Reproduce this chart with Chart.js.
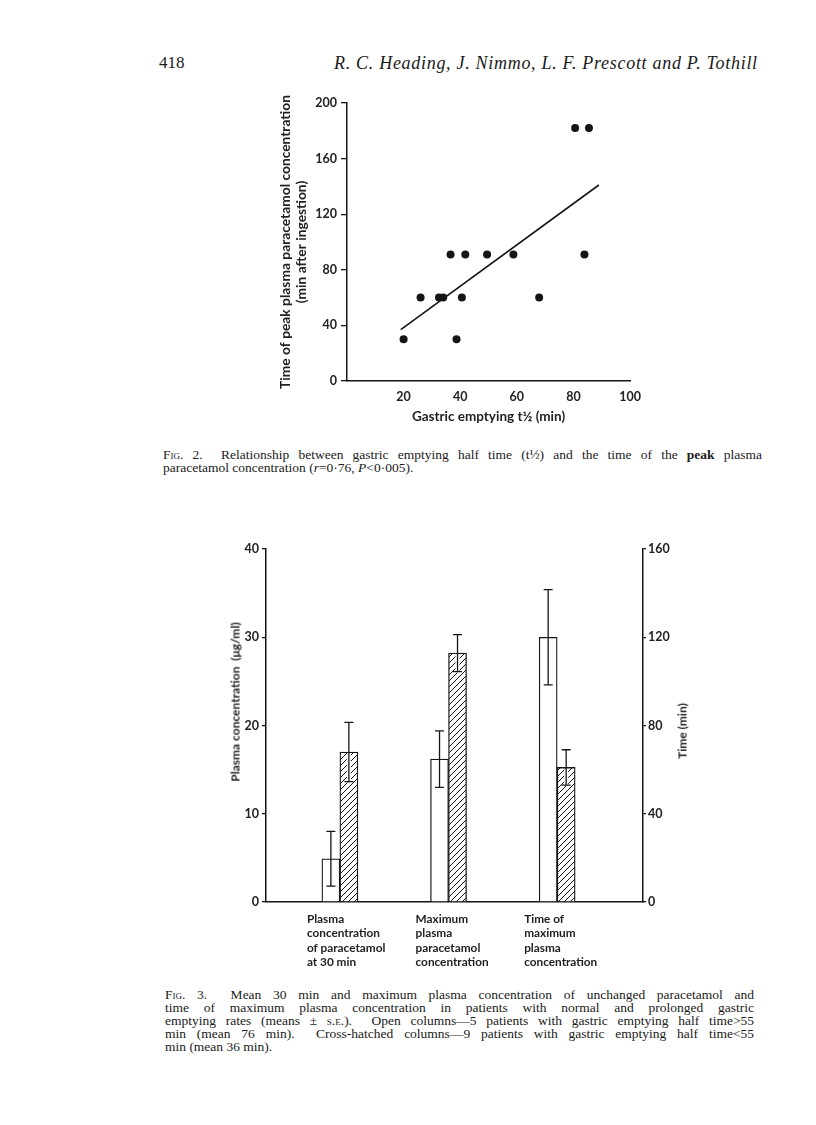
<!DOCTYPE html>
<html>
<head>
<meta charset="utf-8">
<script src="https://cdn.jsdelivr.net/npm/chart.js@4/dist/chart.umd.min.js"></script>
<style>
html,body{margin:0;padding:0;background:#fff;}
body{width:816px;height:1125px;position:relative;overflow:hidden;font-family:"Liberation Serif","DejaVu Serif",serif;color:#1a1a1a;}
.abs{position:absolute;white-space:nowrap;}
canvas{position:absolute;left:0;}
#c1{top:0;}
#c2{top:500px;}
.cap{position:absolute;font-size:13.5px;line-height:13px;}
.cap div{text-align:justify;text-align-last:justify;}
.cap div.last{text-align-last:left;}
.sc{font-variant:small-caps;}
.rot{position:absolute;white-space:nowrap;transform:translate(-50%,-50%) rotate(-90deg);font-family:Lato,"Open Sans",sans-serif;font-weight:bold;font-size:12px;color:#222;}
</style>
</head>
<body>
<div class="abs" style="left:159px;top:53px;font-size:17px;">418</div>
<div class="abs" style="left:334px;top:53px;font-size:18px;letter-spacing:0.7px;font-style:italic;">R. C. Heading, J. Nimmo, L. F. Prescott and P. Tothill</div>

<canvas id="c1" width="816" height="440"></canvas>
<canvas id="c2" width="816" height="480"></canvas>

<div class="cap" style="left:163px;top:448px;width:599px;">
<div><span class="sc">Fig.</span> 2.&nbsp; Relationship between gastric emptying half time (t½) and the time of the <b>peak</b> plasma</div>
<div class="last">paracetamol concentration (<i>r</i>=0·76, <i>P</i>&lt;0·005).</div>
</div>

<div class="rot" style="left:235px;top:702px;">Plasma concentration&nbsp; (μg/ml)</div>
<div class="rot" style="left:682px;top:731px;">Time (min)</div>

<div class="cap" style="left:165px;top:988px;width:589px;">
<div><span class="sc">Fig.</span> 3.&nbsp; Mean 30 min and maximum plasma concentration of unchanged paracetamol and</div>
<div>time of maximum plasma concentration in patients with normal and prolonged gastric</div>
<div>emptying rates (means ± <span class="sc">s.e.</span>).&nbsp; Open columns—5 patients with gastric emptying half time&gt;55</div>
<div>min (mean 76 min).&nbsp; Cross-hatched columns—9 patients with gastric emptying half time&lt;55</div>
<div class="last">min (mean 36 min).</div>
</div>

<script>
// ---------------- Fig. 2 data ----------------
const emptyingHalfTime = [20, 26, 32.5, 34, 38.7, 40.6, 36.6, 41.8, 49.5, 58.8, 67.9, 83.9, 80.6, 85.5];
const peakTime         = [30, 60, 60,   60, 30,   60,   91,   91,   91,   91,   60,   91,   182,  182];
const fitLineX = [19, 89];
const fitLineY = [37, 141];
const fig2XTicks = [0, 20, 40, 60, 80, 100];
const fig2YTicks = [0, 40, 80, 120, 160, 200];

// ---------------- Fig. 3 data ----------------
const categories = [
  ['Plasma', 'concentration', 'of paracetamol', 'at 30 min'],
  ['Maximum', 'plasma', 'paracetamol', 'concentration'],
  ['Time of', 'maximum', 'plasma', 'concentration']
];
const concOpen     = [4.9, 16.2, null];   // µg/ml, open columns
const concOpenSE   = [3.1, 3.2, null];
const concHatch    = [17.0, 28.2, null];  // µg/ml, cross-hatched columns
const concHatchSE  = [3.35, 2.1, null];
const timeOpen     = [null, null, 120];   // min, open column
const timeOpenSE   = [null, null, 21.6];
const timeHatch    = [null, null, 61];    // min, cross-hatched column
const timeHatchSE  = [null, null, 8];
const concTicks = [0, 10, 20, 30, 40];
const timeTicks = [0, 40, 80, 120, 160];

const FONT = 'Lato, "Open Sans", sans-serif';
const INK = '#151515';
const TXT = '#222';

// ---------------- Fig. 2 chart ----------------
new Chart(document.getElementById('c1'), {
  type: 'scatter',
  data: {
    datasets: [
      {
        type: 'scatter',
        data: emptyingHalfTime.map((x, i) => ({ x: x, y: peakTime[i] })),
        pointRadius: 4, pointHoverRadius: 4,
        backgroundColor: INK, borderColor: INK, borderWidth: 0
      },
      {
        type: 'line',
        data: fitLineX.map((x, i) => ({ x: x, y: fitLineY[i] })),
        borderColor: INK, borderWidth: 1.6, pointRadius: 0, fill: false, tension: 0
      }
    ]
  },
  options: {
    responsive: false, animation: false, devicePixelRatio: 1,
    layout: { padding: { left: 277, right: 186, top: 103, bottom: 15 } },
    plugins: { legend: { display: false }, tooltip: { enabled: false } },
    scales: {
      x: {
        type: 'linear', min: 0, max: 100,
        afterBuildTicks: s => { s.ticks = fig2XTicks.map(v => ({ value: v })); },
        afterFit: s => { s.height = 44; },
        grid: { display: true, drawOnChartArea: false, drawTicks: false },
        border: { display: true, color: INK, width: 1.5 },
        ticks: { padding: 8, autoSkip: false, maxRotation: 0, color: TXT,
                 font: { family: FONT, size: 12.5, weight: 'bold' },
                 callback: v => (v === 0 ? '' : String(v)) },
        title: { display: true, text: 'Gastric emptying t½ (min)', color: TXT, padding: 0,
                 font: { family: FONT, size: 13.5, weight: 'bold', lineHeight: 1.2 } }
      },
      y: {
        type: 'linear', min: 0, max: 200,
        afterBuildTicks: s => { s.ticks = fig2YTicks.map(v => ({ value: v })); },
        afterFit: s => { s.width = 70; },
        grid: { display: true, drawOnChartArea: false, drawTicks: true, tickLength: 6, color: INK, lineWidth: 1.3 },
        border: { display: true, color: INK, width: 1.5 },
        ticks: { padding: 4, color: TXT, font: { family: FONT, size: 12.5, weight: 'bold' } },
        title: { display: true, color: TXT, padding: 0,
                 text: ['Time of peak plasma paracetamol concentration', '(min after ingestion)'],
                 font: { family: FONT, size: 13.8, weight: 'bold', lineHeight: 1.18 } }
      }
    }
  }
});

// ---------------- Fig. 3 chart ----------------
const c2 = document.getElementById('c2');
const hatchTile = (() => {
  const c = document.createElement('canvas');
  c.width = 6; c.height = 6;
  const g = c.getContext('2d');
  g.fillStyle = '#fff'; g.fillRect(0, 0, 6, 6);
  g.strokeStyle = INK; g.lineWidth = 1.0;
  g.beginPath();
  g.moveTo(0, 6); g.lineTo(6, 0);
  g.moveTo(-1, 1); g.lineTo(1, -1);
  g.moveTo(5, 7); g.lineTo(7, 5);
  g.stroke();
  return c;
})();
const hatchPattern = c2.getContext('2d').createPattern(hatchTile, 'repeat');

const catPos = categories.map((_, i) => i + 1);
const asPoints = arr => arr.map((v, i) => ({ x: catPos[i], y: v }));

const barCommon = { borderColor: INK, borderWidth: 1.3, barThickness: 18, skipNull: true, borderSkipped: 'start' };

const errorBars = {
  id: 'errorBars',
  afterDatasetsDraw(chart) {
    const ctx = chart.ctx;
    chart.data.datasets.forEach((ds, di) => {
      const meta = chart.getDatasetMeta(di);
      const sc = chart.scales[ds.yAxisID];
      meta.data.forEach((el, i) => {
        const v = ds.data[i].y, e = ds.se[i];
        if (v == null || e == null) return;
        const x = el.x;
        const yt = sc.getPixelForValue(v + e);
        const yb = sc.getPixelForValue(v - e);
        ctx.save();
        ctx.strokeStyle = '#fff'; ctx.lineWidth = 4;
        ctx.beginPath(); ctx.moveTo(x, el.y + 1.5); ctx.lineTo(x, yb + 1); ctx.stroke();
        ctx.strokeStyle = INK; ctx.lineWidth = 1.3;
        ctx.beginPath();
        ctx.moveTo(x, yt); ctx.lineTo(x, yb);
        ctx.moveTo(x - 4.5, yt); ctx.lineTo(x + 4.5, yt);
        ctx.moveTo(x - 4.5, yb); ctx.lineTo(x + 4.5, yb);
        ctx.stroke();
        ctx.restore();
      });
    });
  }
};

new Chart(c2, {
  type: 'bar',
  data: {
    datasets: [
      Object.assign({ label: 'Open, concentration', data: asPoints(concOpen), se: concOpenSE, yAxisID: 'y', backgroundColor: '#fff' }, barCommon),
      Object.assign({ label: 'Cross-hatched, concentration', data: asPoints(concHatch), se: concHatchSE, yAxisID: 'y', backgroundColor: hatchPattern }, barCommon),
      Object.assign({ label: 'Open, time', data: asPoints(timeOpen), se: timeOpenSE, yAxisID: 'y2', backgroundColor: '#fff' }, barCommon),
      Object.assign({ label: 'Cross-hatched, time', data: asPoints(timeHatch), se: timeHatchSE, yAxisID: 'y2', backgroundColor: hatchPattern }, barCommon)
    ]
  },
  options: {
    responsive: false, animation: false, devicePixelRatio: 1,
    layout: { padding: { left: 220, right: 133, top: 49, bottom: 8 } },
    plugins: { legend: { display: false }, tooltip: { enabled: false } },
    scales: {
      x: {
        type: 'linear', min: 0.32, max: 3.79, offset: false,
        afterBuildTicks: s => { s.ticks = catPos.map(v => ({ value: v })); },
        afterFit: s => { s.height = 70; },
        grid: { display: true, drawOnChartArea: false, drawTicks: false },
        border: { display: true, color: INK, width: 1.5 },
        ticks: { align: 'start', labelOffset: -33, padding: 10, autoSkip: false, maxRotation: 0, color: TXT,
                 font: { family: FONT, size: 11.8, weight: 'bold', lineHeight: 1.22 },
                 callback: (v, i) => categories[i] }
      },
      y: {
        type: 'linear', position: 'left', min: 0, max: 40,
        afterBuildTicks: s => { s.ticks = concTicks.map(v => ({ value: v })); },
        afterFit: s => { s.width = 46; },
        grid: { display: true, drawOnChartArea: false, drawTicks: true, tickLength: 4, color: INK, lineWidth: 1.3 },
        border: { display: true, color: INK, width: 1.5 },
        ticks: { padding: 3, color: TXT, font: { family: FONT, size: 12.5, weight: 'bold' } }
      },
      y2: {
        type: 'linear', position: 'right', min: 0, max: 160,
        afterBuildTicks: s => { s.ticks = timeTicks.map(v => ({ value: v })); },
        afterFit: s => { s.width = 40; },
        grid: { display: true, drawOnChartArea: false, drawTicks: true, tickLength: 3, color: INK, lineWidth: 1.3 },
        border: { display: true, color: INK, width: 1.5 },
        ticks: { padding: 2, color: TXT, font: { family: FONT, size: 12.5, weight: 'bold' } }
      }
    }
  },
  plugins: [errorBars]
});
</script>
</body>
</html>
